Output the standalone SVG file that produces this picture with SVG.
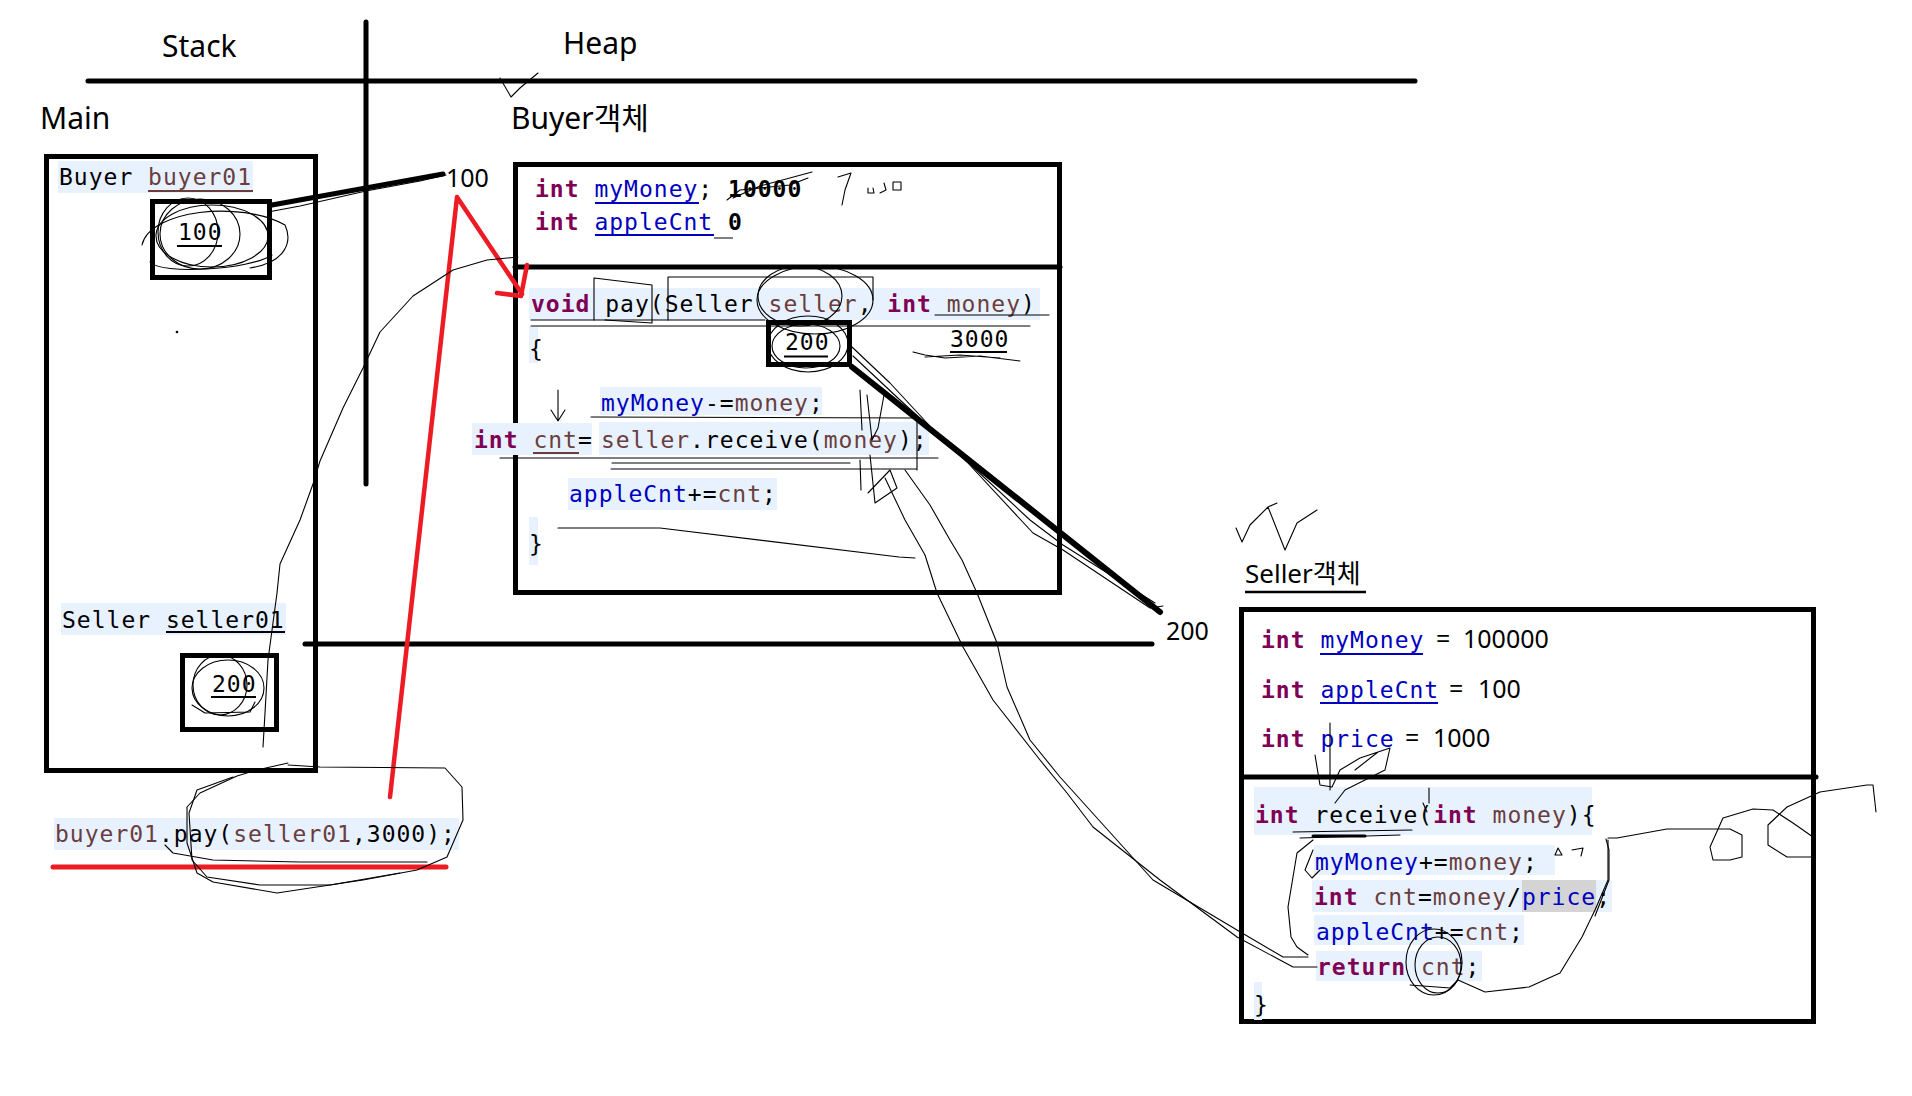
<svg xmlns="http://www.w3.org/2000/svg" width="1912" height="1096" viewBox="0 0 1912 1096">
<defs>
<style>
.lbl{font-family:"Noto Sans","Noto Sans CJK KR",sans-serif;fill:#000}
.code{font-family:"DejaVu Sans Mono",monospace;font-size:23px;letter-spacing:1.0px;fill:#000;white-space:pre}
.kw{fill:#7F0055;font-weight:bold}
.fld{fill:#0000C0}
.loc{fill:#6A3E3E}
.b{font-weight:bold}
.hl{fill:#E8F2FE}
.box{fill:none;stroke:#000;stroke-width:5}
.thick{stroke:#000;stroke-width:5;stroke-linecap:round;fill:none}
.ul{stroke-width:2}
.doodle{fill:none;stroke:#000;stroke-width:1.1;stroke-linejoin:round;stroke-linecap:round}
.red{fill:none;stroke:#ED1C24;stroke-width:4.5;stroke-linecap:round;stroke-linejoin:round}
</style>
</defs>
<rect width="1912" height="1096" fill="#fff"/>

<g id="titles">
<text class="lbl" x="162" y="57" font-size="30">Stack</text>
<text class="lbl" x="563" y="54" font-size="30">Heap</text>
<text class="lbl" x="40" y="129" font-size="30">Main</text>
<text class="lbl" x="511" y="129" font-size="30">Buyer객체</text>
<text class="lbl" x="1245" y="583" font-size="26">Seller객체</text>
<line x1="1245" y1="592" x2="1366" y2="592" stroke="#000" stroke-width="2.5"/>
<text class="lbl" x="446" y="187" font-size="25">100</text>
<text class="lbl" x="1166" y="640" font-size="25">200</text>
</g>

<g id="dividers">
<line class="thick" x1="88" y1="81" x2="1415" y2="81"/>
<line class="thick" x1="366" y1="22" x2="366" y2="484"/>
</g>

<g id="main-frame">
<rect class="box" x="46.5" y="156.5" width="269" height="614"/>
<rect class="hl" x="58" y="161" width="195" height="32"/>
<text class="code" x="59" y="185">Buyer <tspan class="loc">buyer01</tspan></text>
<line x1="148" y1="191" x2="253" y2="191" stroke="#6A3E3E" class="ul"/>
<rect class="box" x="152.5" y="201.5" width="117" height="76"/>
<text class="code" x="178" y="240">100</text>
<line x1="177" y1="246" x2="222" y2="246" stroke="#000" class="ul"/>
<rect class="hl" x="61" y="603" width="225" height="32"/>
<text class="code" x="62" y="628">Seller seller01</text>
<line x1="166" y1="632" x2="285" y2="632" stroke="#000" class="ul"/>
<rect class="box" x="182.5" y="655.5" width="94" height="74"/>
<text class="code" x="212" y="692">200</text>
<line x1="211" y1="697" x2="256" y2="697" stroke="#000" class="ul"/>
</g>

<g id="main-call">
<rect class="hl" x="54" y="818" width="405" height="32"/>
<text class="code" x="55" y="842"><tspan class="loc">buyer01</tspan>.pay(<tspan class="loc">seller01</tspan>,3000);</text>
</g>

<g id="buyer-object">
<rect class="box" x="515.5" y="164.5" width="544" height="428"/>
<line class="thick" x1="515" y1="267" x2="1060" y2="267" stroke-linecap="butt"/>
<text class="code" x="535" y="197"><tspan class="kw">int</tspan> <tspan class="fld">myMoney</tspan>; <tspan class="b">10000</tspan></text>
<line x1="595" y1="203" x2="699" y2="203" stroke="#0000C0" class="ul"/>
<text class="code" x="535" y="230"><tspan class="kw">int</tspan> <tspan class="fld">appleCnt</tspan> <tspan class="b">0</tspan></text>
<line x1="595" y1="235" x2="714" y2="235" stroke="#0000C0" class="ul"/>
<line x1="714" y1="238" x2="733" y2="238" stroke="#000" stroke-width="1"/>

<rect class="hl" x="529" y="288" width="511" height="32"/>
<text class="code" x="531" y="312"><tspan class="kw">void</tspan> pay(Seller <tspan class="loc">seller</tspan>, <tspan class="kw">int</tspan> <tspan class="loc">money</tspan>)</text>
<rect class="hl" x="529" y="327" width="9" height="36"/>
<text class="code" x="529" y="357">{</text>
<rect class="box" x="768.5" y="322.5" width="81" height="42"/>
<text class="code" x="785" y="350">200</text>
<line x1="784" y1="356.5" x2="828" y2="356.5" stroke="#000" class="ul"/>
<text class="code" x="950" y="347">3000</text>
<line x1="950" y1="352" x2="1007" y2="352" stroke="#000" class="ul"/>

<rect class="hl" x="600" y="387" width="222" height="28"/>
<text class="code" x="601" y="411"><tspan class="fld">myMoney</tspan>-=<tspan class="loc">money</tspan>;</text>
<rect class="hl" x="472" y="423" width="120" height="32"/>
<text class="code" x="474" y="448"><tspan class="kw">int</tspan> <tspan class="loc">cnt</tspan>=</text>
<line x1="533" y1="453" x2="579" y2="453" stroke="#6A3E3E" class="ul"/>
<rect class="hl" x="599" y="422" width="330" height="33"/>
<text class="code" x="601" y="448"><tspan class="loc">seller</tspan>.receive(<tspan class="loc">money</tspan>);</text>
<rect class="hl" x="568" y="478" width="209" height="32"/>
<text class="code" x="569" y="502"><tspan class="fld">appleCnt</tspan>+=<tspan class="loc">cnt</tspan>;</text>
<rect class="hl" x="529" y="517" width="9" height="48"/>
<text class="code" x="529" y="552">}</text>
</g>

<g id="seller-object">
<rect class="box" x="1241.5" y="609.5" width="572" height="412"/>
<line class="thick" x1="1244" y1="777" x2="1816" y2="777" stroke-linecap="butt"/>
<text class="code" x="1261" y="648"><tspan class="kw">int</tspan> <tspan class="fld">myMoney</tspan></text>
<text class="lbl" x="1436" y="648" font-size="25">=</text>
<text class="lbl" x="1463" y="648" font-size="25">100000</text>
<line x1="1320" y1="654" x2="1423" y2="654" stroke="#0000C0" class="ul"/>
<text class="code" x="1261" y="698"><tspan class="kw">int</tspan> <tspan class="fld">appleCnt</tspan></text>
<text class="lbl" x="1449" y="698" font-size="25">=</text>
<text class="lbl" x="1478" y="698" font-size="25">100</text>
<line x1="1320" y1="703" x2="1438" y2="703" stroke="#0000C0" class="ul"/>
<text class="code" x="1261" y="747"><tspan class="kw">int</tspan> <tspan class="fld">price</tspan></text>
<text class="lbl" x="1405" y="747" font-size="25">=</text>
<text class="lbl" x="1433" y="747" font-size="25">1000</text>

<rect class="hl" x="1254" y="787" width="338" height="48"/>
<text class="code" x="1255" y="823"><tspan class="kw">int</tspan> receive(<tspan class="kw">int</tspan> <tspan class="loc">money</tspan>){</text>
<rect class="hl" x="1314" y="845" width="241" height="30"/>
<text class="code" x="1315" y="870"><tspan class="fld">myMoney</tspan>+=<tspan class="loc">money</tspan>;</text>
<rect class="hl" x="1312" y="880" width="300" height="32"/>
<rect x="1522" y="880" width="74" height="32" fill="#D4D4D4"/>
<text class="code" x="1314" y="905"><tspan class="kw">int</tspan> <tspan class="loc">cnt</tspan>=<tspan class="loc">money</tspan>/<tspan class="fld">price</tspan>;</text>
<rect class="hl" x="1314" y="915" width="210" height="30"/>
<text class="code" x="1316" y="940"><tspan class="fld">appleCnt</tspan>+=<tspan class="loc">cnt</tspan>;</text>
<rect class="hl" x="1316" y="951" width="166" height="30"/>
<text class="code" x="1317" y="975"><tspan class="kw">return</tspan> <tspan class="loc">cnt</tspan>;</text>
<rect class="hl" x="1254" y="982" width="8" height="38"/>
<text class="code" x="1254" y="1013">}</text>
</g>

<g id="connectors">
<line x1="272" y1="205" x2="443" y2="174" stroke="#000" stroke-width="5" stroke-linecap="round"/>
<line class="thick" x1="305" y1="644" x2="1152" y2="644"/>
<line x1="852" y1="367" x2="1160" y2="612" stroke="#000" stroke-width="6" stroke-linecap="round"/>
<polyline class="red" points="390,797 457,197 522,294"/>
<polyline class="red" points="527,265 521,296 497,293"/>
<line x1="53" y1="867" x2="446" y2="867" stroke="#ED1C24" stroke-width="5" stroke-linecap="round"/>
</g>

<g id="doodles" class="doodle">
<path d="M500,78 L511,97 L520,88 L538,73"/>
<path d="M268,212 L300,206 L366,191 L420,181 L446,175"/>
<ellipse cx="200" cy="234" rx="40" ry="35"/>
<ellipse cx="212" cy="236" rx="56" ry="31"/>
<ellipse cx="188" cy="232" rx="30" ry="34"/>
<path d="M150,262 C160,275 250,270 272,255 M142,245 C150,210 240,200 285,225 C292,240 288,262 250,268"/>
<circle cx="177" cy="332" r="0.8"/>
<ellipse cx="228" cy="688" rx="36" ry="28"/>
<ellipse cx="220" cy="685" rx="27" ry="30"/>
<path d="M192,705 L205,713 L250,712 L255,702"/>
<path d="M518,257 L487,260 L453,270 L413,296 L380,332 L363,368 L343,408 L320,461 L313,484 L300,520 L280,564 L277,593 L268,660 L265,713 L263,747"/>
<path d="M288,763 L257,770 L237,776 L200,793 L187,807 L187,843 L197,873 L213,882 L277,893 L363,880 L417,870 L447,857 L463,820 L462,787 L445,768 L320,767 L288,765"/>
<path d="M233,777 L197,790 L189,813 L192,860 L207,877 L260,885 L330,885 L400,873"/>
<path d="M165,845 L173,853 L213,860 L300,862 L427,862"/>
<path d="M727,200 L740,190 L790,185 L808,178 M733,198 L760,186 L812,172"/>
<path d="M838,177 L851,173 L845,190 L842,205 M868,188 L868,193 L874,193 L873,188 M884,183 L886,190 L880,193 M893,182 L901,182 L901,190 L893,190 Z"/>
<path d="M594,320 L594,278 L652,285 L652,323 L605,320"/>
<path d="M668,320 L668,277 L873,277 L873,300"/>
<ellipse cx="800" cy="296" rx="42" ry="30"/>
<ellipse cx="815" cy="300" rx="58" ry="34"/>
<ellipse cx="808" cy="344" rx="40" ry="28"/>
<ellipse cx="806" cy="346" rx="34" ry="22"/>
<path d="M531,320 L765,320 M531,326 L1030,326 M935,315 L1049,315"/>
<path d="M913,352 L925,355 L945,358 L980,356 L1020,361 M925,357 L960,355 L1000,358"/>
<path d="M558,390 L558,420 M551,410 L558,421 L565,410"/>
<path d="M591,417 L917,418 L917,470 M500,458 L938,458 M611,469 L917,469 M612,463 L850,463"/>
<path d="M860,390 L862,430 M867,395 L872,440 L878,428 L884,395 M860,460 L861,490 M870,455 L875,503 L897,488 L890,470 L868,493"/>
<path d="M558,528 L660,528 L899,557 L915,558"/>
<path d="M852,347 L890,383 L940,437 L967,462 L1033,533 L1063,550 L1150,608 L1163,606"/>
<path d="M853,356 L900,400 L960,455 L1030,520 L1063,545 L1155,603"/>
<path d="M885,478 L905,520 L925,555 L937,593 L963,647 L993,700 L1040,760 L1067,793 L1093,827 L1160,880 L1237,937 L1293,967 L1317,967"/>
<path d="M905,470 L930,505 L950,540 L962,560 L977,593 L997,643 L1007,687 L1030,740 L1060,777 L1153,880 L1237,930 L1283,957 L1308,957"/>
<path d="M1236,528 L1242,542 L1250,525 L1268,507 L1277,503 M1268,507 L1285,550 L1297,523 L1317,510"/>
<path d="M1315,755 L1320,785 L1332,787 L1340,770 L1360,758 L1390,748 L1385,770 L1345,790 L1335,803 M1330,723 L1330,790 M1355,770 L1378,752"/>
<path d="M1293,832 L1412,830 M1300,838 L1400,835"/>
<line x1="1313" y1="836" x2="1365" y2="836" stroke-width="3"/>
<path d="M1429,788 L1429,803 M1423,803 L1427,812"/>
<path d="M1313,840 L1297,853 L1288,907 L1291,937 L1297,947 L1308,955"/>
<path d="M1313,850 L1305,870 L1312,878 L1320,870"/>
<ellipse cx="1434" cy="962" rx="28" ry="33"/>
<ellipse cx="1438" cy="965" rx="23" ry="28"/>
<path d="M1410,985 L1450,988 L1458,980 L1485,992 L1529,987 L1560,973 L1582,937 L1595,910 L1608,880 L1608,840"/>
<path d="M1555,855 L1558,848 L1562,855 Z M1572,850 L1583,848 L1581,856"/>
<path d="M1608,838 L1617,838 L1667,829 L1730,829 L1742,835 L1742,857 L1730,860 L1713,860 L1710,847 L1723,818 L1753,809 L1773,810 L1793,823 L1813,837"/>
<path d="M1813,857 L1787,857 L1768,845 L1768,825 L1787,807 L1820,792 L1867,785 L1873,785 L1876,812"/>
<path d="M1606,839 L1609,850 L1609,880 L1595,916"/>
</g>
</svg>
